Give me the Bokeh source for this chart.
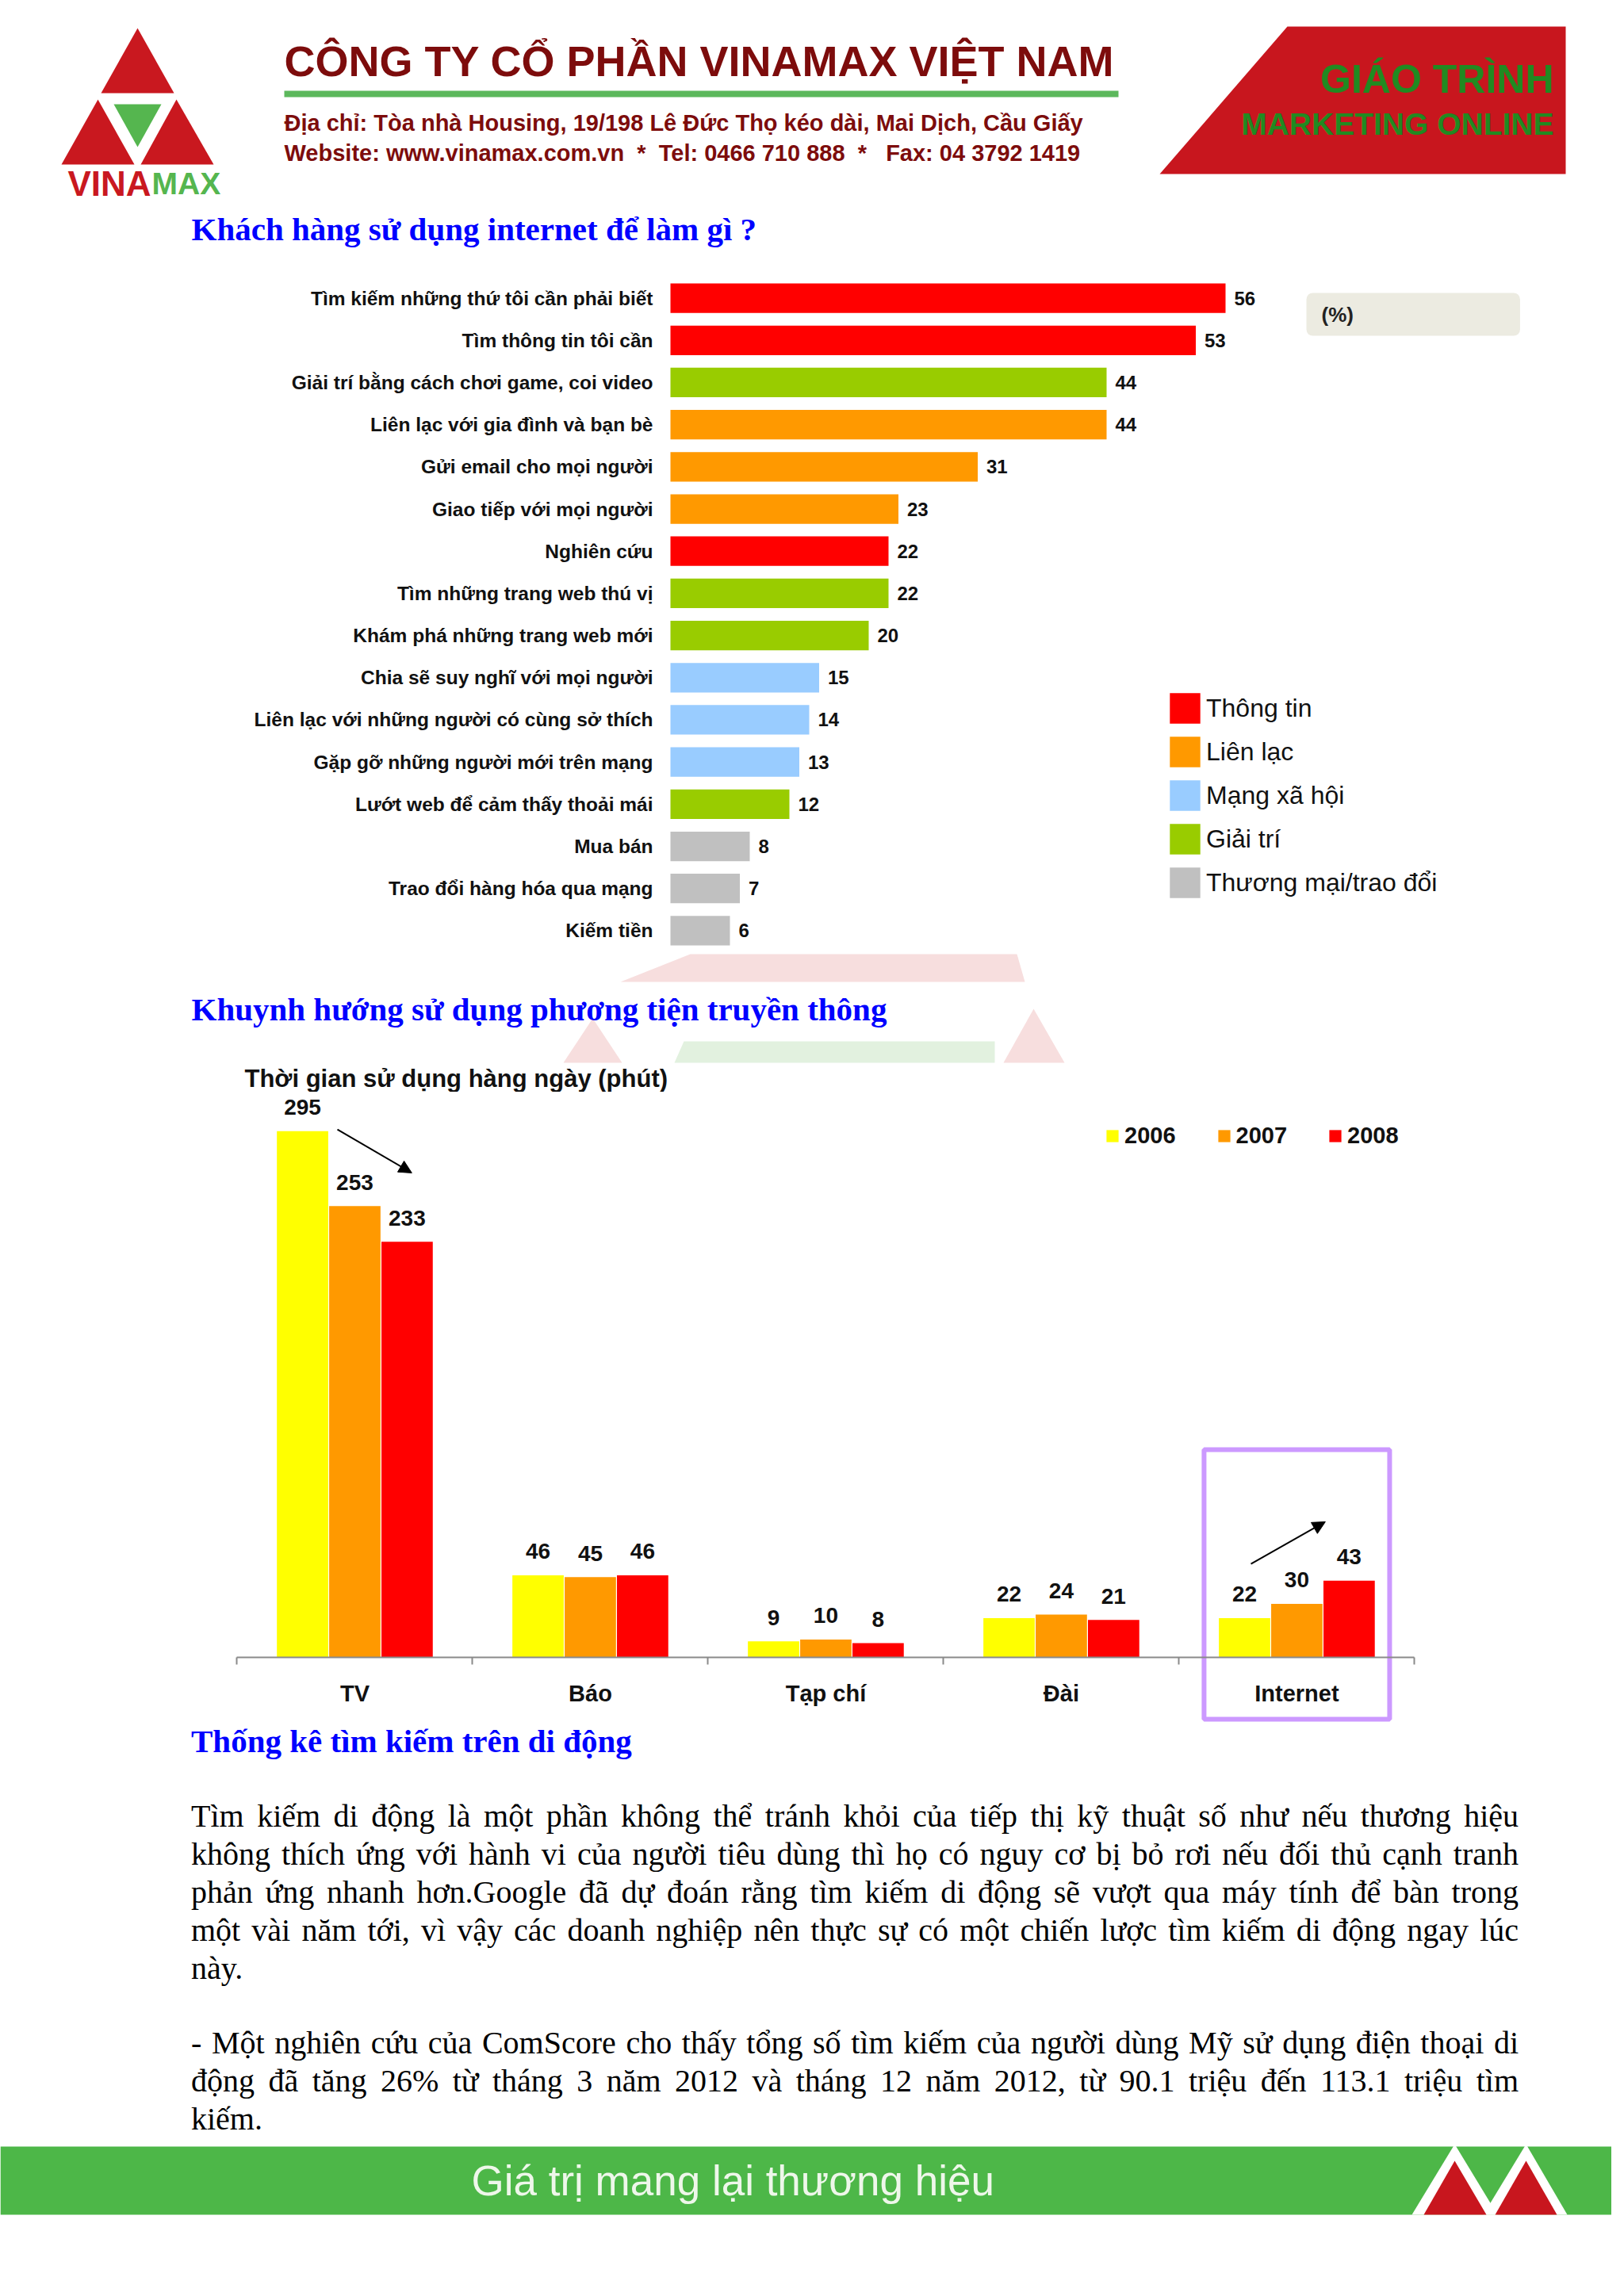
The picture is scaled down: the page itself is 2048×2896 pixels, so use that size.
from bokeh.plotting import figure
from bokeh.models import (Range1d, FactorRange, ColumnDataSource, CDSView, GroupFilter, Legend,
                          LegendItem, Label, Arrow, NormalHead, LinearAxis, FixedTicker,
                          CustomJSTickFormatter, Div)
from bokeh.layouts import column
from bokeh.core.properties import value
from bokeh.transform import dodge
from bokeh.embed import file_html
from bokeh.resources import INLINE

SANS = "Liberation Sans"
SERIF = "Liberation Serif"
W = 2032

# ---------------- data: chart 1 ----------------
activities = [
    "Tìm kiếm những thứ tôi cần phải biết",
    "Tìm thông tin tôi cần",
    "Giải trí bằng cách chơi game, coi video",
    "Liên lạc với gia đình và bạn bè",
    "Gửi email cho mọi người",
    "Giao tiếp với mọi người",
    "Nghiên cứu",
    "Tìm những trang web thú vị",
    "Khám phá những trang web mới",
    "Chia sẽ suy nghĩ với mọi người",
    "Liên lạc với những người có cùng sở thích",
    "Gặp gỡ những người mới trên mạng",
    "Lướt web để cảm thấy thoải mái",
    "Mua bán",
    "Trao đổi hàng hóa qua mạng",
    "Kiếm tiền",
]
activity_values = [56, 53, 44, 44, 31, 23, 22, 22, 20, 15, 14, 13, 12, 8, 7, 6]
activity_groups = ["Thông tin", "Thông tin", "Giải trí", "Liên lạc", "Liên lạc", "Liên lạc",
                   "Thông tin", "Giải trí", "Giải trí", "Mạng xã hội", "Mạng xã hội",
                   "Mạng xã hội", "Giải trí", "Thương mại/trao đổi", "Thương mại/trao đổi",
                   "Thương mại/trao đổi"]
group_names = ["Thông tin", "Liên lạc", "Mạng xã hội", "Giải trí", "Thương mại/trao đổi"]
group_colors = ["#ff0000", "#ff9900", "#99ccff", "#99cc00", "#c0c0c0"]

# ---------------- data: chart 2 ----------------
media = ["TV", "Báo", "Tạp chí", "Đài", "Internet"]
years = ["2006", "2007", "2008"]
usage_2006 = [295, 46, 9, 22, 22]
usage_2007 = [253, 45, 10, 24, 30]
usage_2008 = [233, 46, 8, 21, 43]
year_colors = ["#ffff00", "#ff9900", "#ff0000"]

# ---------------- texts ----------------
title1 = "Khách hàng sử dụng internet để làm gì ?"
title2 = "Khuynh hướng sử dụng phương tiện truyền thông"
subtitle2 = "Thời gian sử dụng hàng ngày (phút)"
title3 = "Thống kê tìm kiếm trên di động"
para1 = [
    "Tìm kiếm di động là một phần không thể tránh khỏi của tiếp thị kỹ thuật số như nếu thương hiệu",
    "không thích ứng với hành vi của người tiêu dùng thì họ có nguy cơ bị bỏ rơi nếu đối thủ cạnh tranh",
    "phản ứng nhanh hơn.Google đã dự đoán rằng tìm kiếm di động sẽ vượt qua máy tính để bàn trong",
    "một vài năm tới, vì vậy các doanh nghiệp nên thực sự có một chiến lược tìm kiếm di động ngay lúc",
    "này.",
]
para2 = [
    "- Một nghiên cứu của ComScore cho thấy tổng số tìm kiếm của người dùng Mỹ sử dụng điện thoại di",
    "động đã tăng 26% từ tháng 3 năm 2012 và tháng 12 năm 2012, từ 90.1 triệu đến  113.1 triệu tìm",
    "kiếm.",
]


def no_grid(f):
    f.xgrid.visible = False
    f.ygrid.visible = False
    f.outline_line_color = None


def page_fig(height):
    f = figure(width=W, height=height, x_range=Range1d(0, W), y_range=Range1d(height, 0),
               x_axis_location=None, y_axis_location=None, toolbar_location=None,
               output_backend="svg", title=None, min_border=0)
    no_grid(f)
    f.background_fill_color = "white"
    f.border_fill_color = "white"
    return f


def shape(f, oy, pts, color):
    f.patch([p[0] - 8 for p in pts], [p[1] - oy for p in pts], fill_color=color, line_color=None)


def txt(f, oy, x, y, s, size, color, font=SANS, style="bold", align="left"):
    f.text(x=[x - 8], y=[y - oy], text=[s], text_font=value(font), text_font_style=style,
           text_font_size=size, text_color=color, text_align=align, text_baseline="middle")


RED = "#c9181f"
LOGO_GREEN = "#55b64f"
MAROON = "#7d0c0c"
BLUE = "#0000ff"

# ---------------- header ----------------
HY = 8
hdr = page_fig(349)
shape(hdr, HY, [(181, 43), (135, 125), (227, 125)], RED)
shape(hdr, HY, [(131, 133), (85, 215), (177, 215)], RED)
shape(hdr, HY, [(230, 133), (185, 215), (277, 215)], RED)
shape(hdr, HY, [(151, 139), (211, 139), (181, 193)], LOGO_GREEN)
txt(hdr, HY, 198, 239, "VINA", "44px", RED, align="right")
txt(hdr, HY, 199, 239, "MAX", "39px", LOGO_GREEN)
txt(hdr, HY, 366, 84, "CÔNG TY CỔ PHẦN VINAMAX VIỆT NAM", "54px", MAROON)
shape(hdr, HY, [(366, 122), (1418, 122), (1418, 130), (366, 130)], "#5cb85c")
txt(hdr, HY, 366, 162, "Địa chỉ: Tòa nhà Housing, 19/198 Lê Đức Thọ kéo dài, Mai Dịch, Cầu Giấy",
    "29px", MAROON)
txt(hdr, HY, 366, 200,
    "Website: www.vinamax.com.vn\u00a0 *\u00a0 Tel: 0466 710 888\u00a0 *\u00a0\u00a0 Fax: 04 3792 1419",
    "29px", MAROON)
shape(hdr, HY, [(1631, 41), (1982, 41), (1982, 227), (1470, 227)], "#c8161e")
txt(hdr, HY, 1967, 107, "GIÁO TRÌNH", "50px", "#218a21", align="right")
txt(hdr, HY, 1967, 164, "MARKETING ONLINE", "39px", "#218a21", align="right")
txt(hdr, HY, 249, 296, title1, "41px", BLUE, font=SERIF)

# ---------------- chart 1 ----------------
src1 = ColumnDataSource(dict(label=activities, value=activity_values, group=activity_groups,
                             value_s=[str(v) for v in activity_values]))
c1 = figure(frame_width=W, frame_height=851, y_range=FactorRange(factors=activities[::-1]),
            x_range=Range1d(-67.6, 94.96), x_axis_location=None, y_axis_location=None,
            toolbar_location=None, output_backend="svg", title=None, min_border=0)
no_grid(c1)

items1 = []
for g, col in zip(group_names, group_colors):
    view = CDSView(filter=GroupFilter(column_name="group", group=g))
    r = c1.hbar(y="label", left=0, right="value", height=0.7, source=src1, view=view,
                fill_color=col, line_color=None)
    items1.append(LegendItem(label=g, renderers=[r]))
# category labels (right-aligned next to the zero line)
c1.text(x=0, y="label", text="label", source=src1, x_offset=-22,
        text_font=value(SANS), text_font_style="bold", text_font_size="24.5px",
        text_color="#111111", text_baseline="middle", text_align="right")
# value labels
c1.text(x="value", y="label", text="value_s", source=src1, x_offset=11,
        text_font=value(SANS), text_font_style="bold", text_font_size="24px",
        text_color="#111111", text_baseline="middle", text_align="left")
leg1 = Legend(items=items1, location=(1470, 63), glyph_width=48, glyph_height=48, spacing=7,
              padding=0, margin=0, label_standoff=3, label_text_font=SANS,
              label_text_font_size="32px", label_text_color="#111111",
              border_line_color=None, background_fill_alpha=0)
c1.add_layout(leg1)
c1.add_layout(Label(x=1647, y=804, x_units="screen", y_units="screen", text="(%)",
                    text_font=SANS, text_font_style="bold", text_font_size="26px",
                    text_color="#222222", text_baseline="middle",
                    padding=(19, 210, 12, 12), background_fill_color="#ecebe1",
                    border_radius=8))

# ---------------- title 2 band ----------------
TY = 1208
t2 = page_fig(177)
shape(t2, TY, [(878, 1211), (1290, 1211), (1300, 1246), (790, 1246)], "#f7dede")
shape(t2, TY, [(755, 1292), (718, 1348), (792, 1348)], "#f7dede")
shape(t2, TY, [(1311, 1280), (1273, 1348), (1350, 1348)], "#f7dede")
shape(t2, TY, [(870, 1321), (1262, 1321), (1262, 1348), (858, 1348)], "#e2f1df")
txt(t2, TY, 249, 1280, title2, "41px", BLUE, font=SERIF)
txt(t2, TY, 316, 1368, subtitle2, "31px", "#111111")

# ---------------- chart 2 ----------------
src2 = ColumnDataSource(dict(
    x=list(range(len(media))), media=media,
    y2006=usage_2006, y2007=usage_2007, y2008=usage_2008,
    s2006=[str(v) for v in usage_2006], s2007=[str(v) for v in usage_2007],
    s2008=[str(v) for v in usage_2008]))
c2 = figure(frame_width=W, frame_height=800, x_range=Range1d(-1.505, 5.337),
            y_range=Range1d(-38.7, 316.9), x_axis_location=None, y_axis_location=None,
            toolbar_location=None, output_backend="svg", title=None, min_border=0)
no_grid(c2)

offsets = [-0.222, 0.0, 0.222]
items2 = []
for yr, off, col in zip(years, offsets, year_colors):
    r = c2.vbar(x=dodge("x", off, range=c2.x_range), top="y" + yr, width=0.218, source=src2,
                fill_color=col, line_color=None)
    items2.append(LegendItem(label=yr, renderers=[r]))
    c2.text(x=dodge("x", off, range=c2.x_range), y="y" + yr, text="s" + yr, source=src2,
            y_offset=-30, text_font=value(SANS), text_font_style="bold", text_font_size="28px",
            text_color="#111111", text_align="center", text_baseline="middle")
c2.text(x="x", y=0, text="media", source=src2, y_offset=46, text_font=value(SANS),
        text_font_style="bold", text_font_size="29px", text_color="#111111",
        text_align="center", text_baseline="middle")

ax = LinearAxis(fixed_location=0, ticker=FixedTicker(ticks=[i - 0.5 for i in range(len(media) + 1)]),
                bounds=(-0.5, len(media) - 0.5),
                formatter=CustomJSTickFormatter(code="return ''"),
                major_tick_in=0, major_tick_out=9, minor_tick_in=0, minor_tick_out=0,
                axis_line_color="#8a8a8a", axis_line_width=2,
                major_tick_line_color="#8a8a8a", major_tick_line_width=2,
                major_label_standoff=0, major_label_text_font_size="1px")
c2.add_layout(ax, "below")

hi = media.index("Internet")
c2.quad(left=[hi - 0.394], right=[hi + 0.394], bottom=[-34.7], top=[116.4],
        fill_alpha=0, line_color="#cc99ff", line_width=6)
head = dict(size=16, fill_color="black", line_color="black")
c2.add_layout(Arrow(end=NormalHead(**head), x_start=-0.074, y_start=296, x_end=0.242, y_end=271.6,
                    line_width=2, line_color="black"))
c2.add_layout(Arrow(end=NormalHead(**head), x_start=3.805, y_start=52.4, x_end=4.121, y_end=76,
                    line_width=2, line_color="black"))

leg2 = Legend(items=items2, location=(1393, 728), orientation="horizontal", glyph_width=19,
              glyph_height=19, spacing=51, padding=0, margin=0, label_standoff=6,
              label_text_font=SANS, label_text_font_style="bold", label_text_font_size="29px",
              label_text_color="#111111", border_line_color=None, background_fill_alpha=0)
c2.add_layout(leg2)

# ---------------- text section ----------------
DIV_H = 521


def lines_html(lines):
    out = []
    for i, ln in enumerate(lines):
        last = "left" if i == len(lines) - 1 else "justify"
        out.append(f'<div style="text-align:justify;text-align-last:{last};white-space:nowrap;">{ln}</div>')
    return "".join(out)


div_html = (
    f'<div style="position:relative;width:{W}px;height:{DIV_H}px;'
    "font-family:'Liberation Serif','Times New Roman',serif;color:#000;\">"
    f'<div style="position:absolute;left:241px;top:0px;line-height:38px;font-size:41px;'
    f'font-weight:bold;color:{BLUE};white-space:nowrap;">{title3}</div>'
    '<div style="position:absolute;left:241px;top:90px;width:1674px;font-size:40px;line-height:48px;">'
    f"{lines_html(para1)}</div>"
    '<div style="position:absolute;left:241px;top:376px;width:1674px;font-size:40px;line-height:48px;">'
    f"{lines_html(para2)}</div>"
    "</div>"
)
txtdiv = Div(text=div_html, width=W, height=DIV_H, margin=0)

# ---------------- footer ----------------
FY = 2716
ft = page_fig(172)
shape(ft, FY, [(8, 2725), (2040, 2725), (2040, 2811), (8, 2811)], "#4db748")
txt(ft, FY, 602, 2768, "Giá trị mang lại thương hiệu", "53px", "#eef7ea", style="normal")
shape(ft, FY, [(1842, 2722), (1788, 2811), (1896, 2811)], "white")
shape(ft, FY, [(1932, 2722), (1878, 2811), (1984, 2811)], "white")
shape(ft, FY, [(1842, 2743), (1803, 2811), (1882, 2811)], "#c8161e")
shape(ft, FY, [(1932, 2743), (1893, 2811), (1971, 2811)], "#c8161e")

for f in (hdr, c1, t2, c2, ft):
    f.margin = 0

layout = column(hdr, c1, t2, c2, txtdiv, ft, spacing=0)
open("out.html", "w").write(file_html(layout, INLINE))
